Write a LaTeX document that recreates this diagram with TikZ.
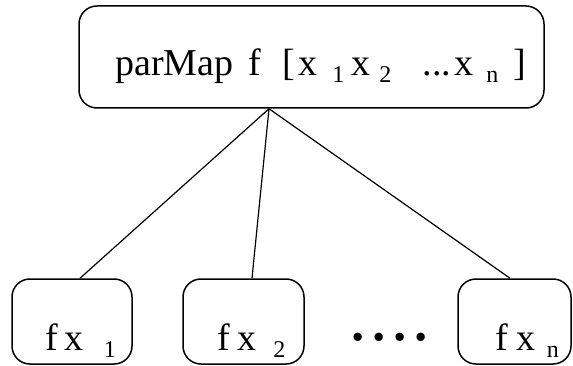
\documentclass[tikz,border=0pt]{standalone}
\usepackage{fontspec}
\setmainfont{Liberation Serif}
\newcommand\mysub[1]{\raisebox{-7pt}{\fontsize{24}{25}\selectfont #1}}
\begin{document}
\begin{tikzpicture}[x=1pt,y=-1pt,
  box/.style={draw, line width=1.5pt, rounded corners=18pt, inner sep=0pt},
  lbl/.style={anchor=base west, inner sep=0pt, font=\fontsize{38}{40}\selectfont},
  conn/.style={line width=1.2pt}]
\useasboundingbox (0,0) rectangle (573,366);
\node[box, minimum width=465pt, minimum height=102pt] (top) at (311.5,57) {};
\node[lbl] (toptext) at (115,76) {parMap\hspace{15pt}f\hspace{21.3pt}[\hspace{3.5pt}x\hspace{15pt}\mysub{1}\hspace{7pt}x\hspace{9pt}\mysub{2}\hspace{31.5pt}...\hspace{3pt}x\hspace{13pt}\mysub{n}\hspace{15pt}]};
\node[box, minimum width=120pt, minimum height=85pt] (b1) at (72,321.5) {};
\node[box, minimum width=121pt, minimum height=85pt] (b2) at (243.5,321.5) {};
\node[box, minimum width=113pt, minimum height=85pt] (b3) at (514.5,321.5) {};
\node[lbl] (t1) at (45,350) {f\hspace{7pt}x\hspace{20pt}\mysub{1}};
\node[lbl] (t2) at (217,350) {f\hspace{7.5pt}x\hspace{17pt}\mysub{2}};
\node[lbl] (t3) at (495,350) {f\hspace{9pt}x\hspace{11pt}\mysub{n}};
\node[inner sep=0pt, font=\fontsize{70}{70}\selectfont] (dots) at (389.7,347) {·\hspace{-2.2pt}·\hspace{-2.2pt}·\hspace{-2.2pt}·};
\coordinate (apex) at ([xshift=-42.5pt]top.south);
\draw[conn] (apex) -- ([xshift=8pt]b1.north);
\draw[conn] (apex) -- ([xshift=8.5pt]b2.north);
\draw[conn] (apex) -- ([xshift=-4.5pt]b3.north);
\end{tikzpicture}
\end{document}
